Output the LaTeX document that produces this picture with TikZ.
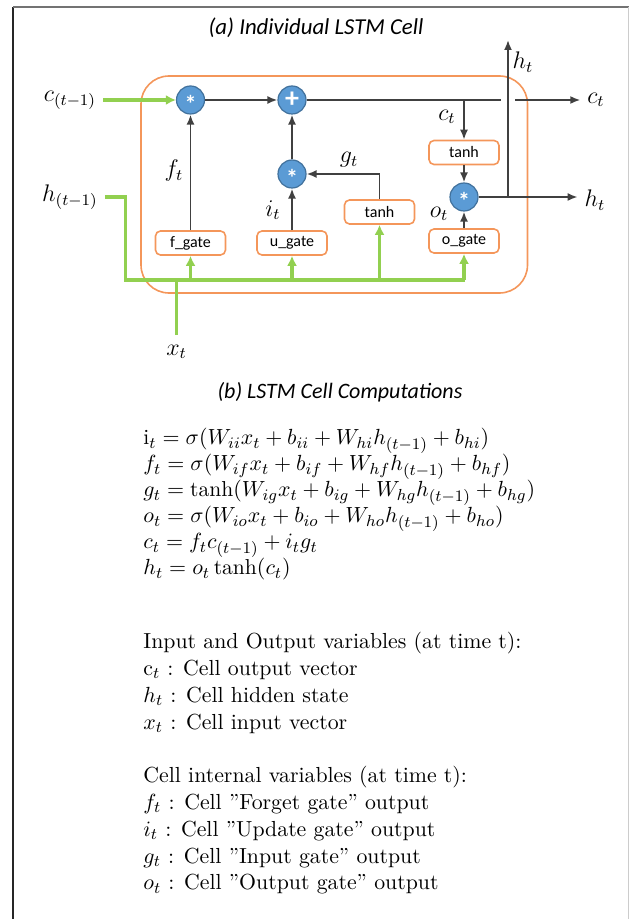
\documentclass[tikz,border=0pt]{standalone}
\usepackage{fontspec}
\usepackage{amsmath}
\usetikzlibrary{arrows.meta}
\newfontfamily\calib{Carlito}
\definecolor{cellgreen}{RGB}{146,208,80}
\definecolor{cellorange}{RGB}{244,150,90}
\definecolor{opblue}{RGB}{91,155,213}
\definecolor{opedge}{RGB}{65,113,156}
\definecolor{wire}{RGB}{64,64,64}
\newcommand{\opstar}{\raisebox{-6.5pt}[0pt][0pt]{*}}

\begin{document}
\begin{tikzpicture}[x=0.5pt,y=-0.5pt,
  op/.style={circle,fill=opblue,draw=opedge,line width=0.6pt,minimum size=14pt,inner sep=0pt,text=white,font=\calib\bfseries\fontsize{12}{12}\selectfont},
  gatebox/.style={draw=cellorange,line width=0.8pt,rounded corners=2.5pt,minimum width=35pt,minimum height=12pt,inner sep=0pt,font=\calib\fontsize{8}{9}\selectfont},
  lbl/.style={font=\fontsize{12}{14}\selectfont},
  wireline/.style={draw=wire,line width=0.9pt},
  wirearrow/.style={wireline,-{Latex[length=5pt,width=4pt]}},
  gline/.style={draw=cellgreen,line width=1.6pt},
  garrow/.style={gline,-{Latex[length=5pt,width=5pt]}},
  ttl/.style={font=\calib\itshape\fontsize{11}{13}\selectfont}]
\useasboundingbox (0,0) rectangle (629,919);
% frame
\draw[black!85,line width=1.1pt] (13,919) -- (13,7);
\draw[black!55,line width=1.1pt] (13,7) -- (629,7);
\draw[black!20,line width=0.5pt] (628,7) -- (628,919);

% (a) the cell
\node[ttl,font=\calib\itshape\fontsize{11.4}{13}\selectfont] (titlea) at (316,28) {(a) Individual LSTM Cell};
\draw[cellorange,line width=0.8pt,rounded corners=14pt] (141,76) rectangle (527.5,293);

\node[op] (fmul) at (190.5,100) {\opstar};
\node[op,font=\calib\bfseries\fontsize{14}{14}\selectfont] (cadd) at (292,100) {+};
\node[op] (imul) at (292,174) {\opstar};
\node[op] (omul) at (464,197) {\opstar};

\node[gatebox] (fgate) at (190.5,243) {f\_gate};
\node[gatebox] (ugate) at (292,243) {u\_gate};
\node[gatebox] (tanhg) at (379.5,212) {tanh};
\node[gatebox] (ogate) at (464,241) {o\_gate};
\node[gatebox] (tanhc) at (464,152.5) {tanh};

\node[lbl] (cprev) at (70,100) {$c_{(t-1)}$};
\node[lbl] (hprev) at (70,197) {$h_{(t-1)}$};
\node[lbl] (xin) at (176.5,352) {$x_t$};
\node[lbl] (cout) at (596,100) {$c_t$};
\node[lbl] (hout) at (595,200) {$h_t$};
\node[lbl] (htop) at (523,62) {$h_t$};
\node[lbl] (lf) at (174,171) {$f_t$};
\node[lbl] (li) at (273,210) {$i_t$};
\node[lbl] (lg) at (349,160) {$g_t$};
\node[lbl] (lo) at (439,214) {$o_t$};
\node[lbl] (lc) at (447,117) {$c_t$};

\coordinate (cgapl) at (501,100);
\coordinate (cgapr) at (515,100);
\coordinate (ctap) at (464,100);
\coordinate (hsplit) at (508,197);
\coordinate (htip) at (508,40);
\coordinate (hjoin) at (125.5,280);
\coordinate (busend) at (465,280);
\coordinate (xfoot) at (176.5,335);

% cell state and hidden state wires
\draw[wirearrow] (fmul) -- (cadd);
\draw[wireline] (cadd) -- (cgapl);
\draw[wirearrow] (cgapr) -- (cout.west);
\draw[wirearrow] (ctap) -- (tanhc.north);
\draw[wirearrow] (tanhc) -- (omul);
\draw[wirearrow] (ogate) -- (omul);
\draw[wirearrow] (omul) -- (hout.west |- omul);
\draw[wirearrow] (hsplit) -- (htip);
\draw[wirearrow] (fgate) -- (fmul);
\draw[wirearrow] (ugate) -- (imul);
\draw[wirearrow] (imul) -- (cadd);
\draw[wirearrow] (tanhg.north) |- (imul.east);

% inputs
\draw[garrow] (cprev.east) -- (fmul);
\draw[gline] (hprev.east) -| (hjoin) -- (busend);
\draw[gline] (xfoot) -- (hjoin -| xfoot);
\draw[garrow] (fgate.south |- hjoin) -- (fgate.south);
\draw[garrow] (ugate.south |- hjoin) -- (ugate.south);
\draw[garrow] (tanhg.south |- hjoin) -- (tanhg.south);
\draw[garrow] (ogate.south |- hjoin) -- (ogate.south);

% (b) the computations
\node[ttl] (titleb) at (340,392) {(b) LSTM Cell Computations};
\node[anchor=north west,align=left,inner sep=0pt,font=\fontsize{10.8}{13}\selectfont] (eqs) at (143,428) {%
$\mathrm{i}_t = \sigma(W_{ii}x_t + b_{ii} + W_{hi}h_{(t-1)} + b_{hi})$\\
$f_t = \sigma(W_{if}x_t + b_{if} + W_{hf}h_{(t-1)} + b_{hf})$\\
$g_t = \tanh(W_{ig}x_t + b_{ig} + W_{hg}h_{(t-1)} + b_{hg})$\\
$o_t = \sigma(W_{io}x_t + b_{io} + W_{ho}h_{(t-1)} + b_{ho})$\\
$c_t = f_t c_{(t-1)} + i_t g_t$\\
$h_t = o_t \tanh(c_t)$};
\node[anchor=north west,align=left,inner sep=0pt,font=\fontsize{10.9}{13.4}\selectfont] (vars) at (143,632) {%
Input and Output variables (at time t):\\
$\mathrm{c}_t$ : Cell output vector\\
$h_t$ : Cell hidden state\\
$x_t$ : Cell input vector\\[13.4pt]
Cell internal variables (at time t):\\
$f_t$ : Cell ''Forget gate'' output\\
$i_t$ : Cell ''Update gate'' output\\
$g_t$ : Cell ''Input gate'' output\\
$o_t$ : Cell ''Output gate'' output};
\end{tikzpicture}
\end{document}
